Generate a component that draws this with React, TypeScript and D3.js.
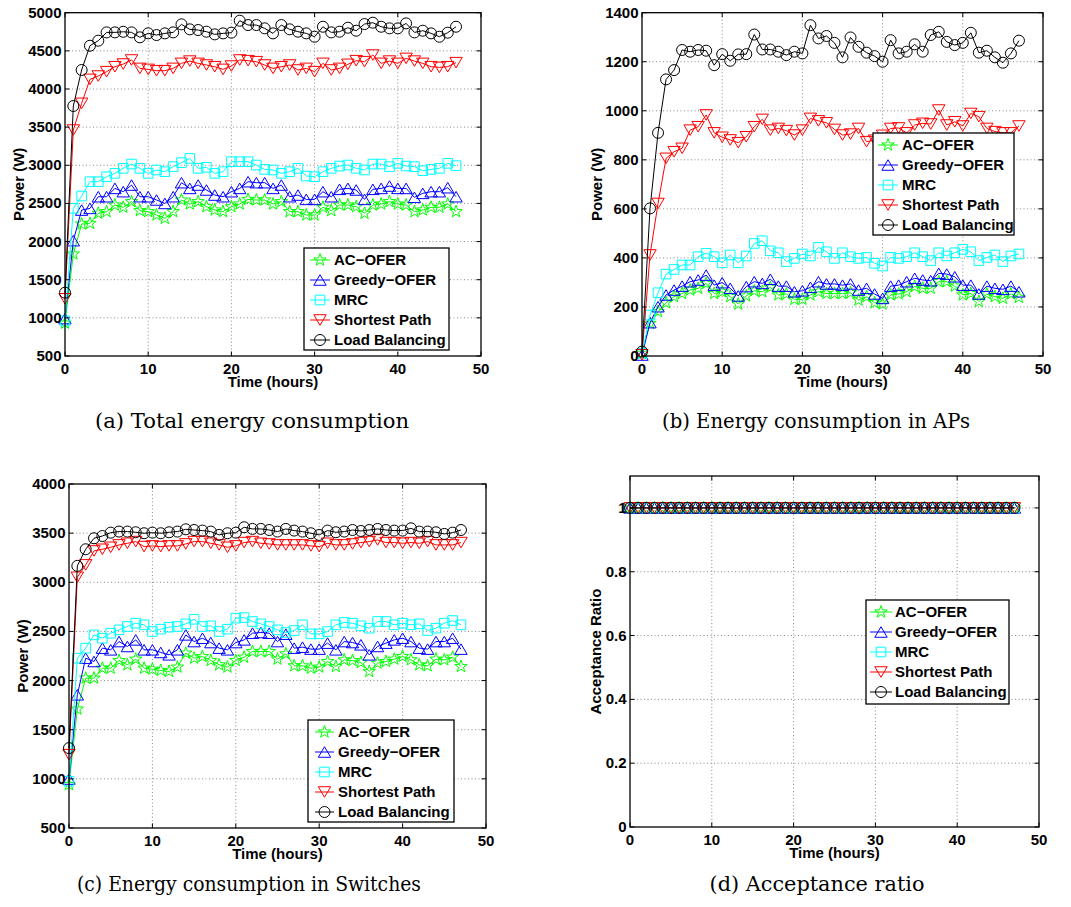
import React from 'react';
import * as d3 from 'd3';

// Time axis: one sample per hour
const HOURS = d3.range(0, 48);

const SERIES_NAMES = ['AC\u2212OFER', 'Greedy\u2212OFER', 'MRC', 'Shortest Path', 'Load Balancing'];
const SERIES_COLORS = ['#00ff00', '#0000ff', '#00ffff', '#ff0000', '#000000'];
const SERIES_MARKERS = ['star', 'triUp', 'square', 'triDown', 'circle'];

// (a) Total energy consumption (W)
const totalAC = [930, 1837, 2230, 2239, 2370, 2392, 2479, 2449, 2523, 2405, 2392, 2348, 2304, 2392, 2545, 2492, 2523, 2457, 2414, 2392, 2457, 2492, 2553, 2545, 2545, 2492, 2523, 2392, 2392, 2348, 2348, 2449, 2405, 2479, 2479, 2457, 2370, 2479, 2492, 2523, 2492, 2479, 2392, 2414, 2449, 2449, 2492, 2392];
const totalGreedy = [990, 2012, 2413, 2435, 2588, 2588, 2697, 2654, 2741, 2588, 2588, 2545, 2500, 2588, 2772, 2697, 2741, 2676, 2610, 2588, 2654, 2697, 2785, 2772, 2772, 2697, 2741, 2588, 2610, 2553, 2553, 2654, 2588, 2685, 2697, 2676, 2553, 2685, 2697, 2728, 2697, 2697, 2580, 2632, 2654, 2654, 2706, 2588];
const totalMRC = [960, 2435, 2597, 2785, 2785, 2850, 2894, 2960, 3016, 2960, 2894, 2938, 2916, 2982, 3034, 3090, 2960, 2973, 2894, 2916, 3047, 3047, 3047, 3003, 2946, 2938, 2894, 2916, 2960, 2859, 2850, 2916, 2960, 2990, 3003, 2960, 2938, 3016, 3016, 2982, 3025, 2990, 2982, 2929, 2946, 2960, 3025, 2995];
const totalSP = [1250, 3462, 3812, 4126, 4170, 4227, 4292, 4327, 4380, 4270, 4257, 4240, 4240, 4270, 4336, 4366, 4336, 4314, 4292, 4257, 4301, 4380, 4371, 4358, 4314, 4270, 4292, 4314, 4249, 4270, 4227, 4336, 4249, 4270, 4323, 4371, 4358, 4445, 4336, 4366, 4336, 4401, 4366, 4336, 4292, 4283, 4292, 4345];
const totalLB = [1330, 3777, 4249, 4567, 4633, 4742, 4742, 4750, 4742, 4677, 4730, 4707, 4729, 4742, 4847, 4782, 4773, 4751, 4716, 4729, 4738, 4895, 4838, 4838, 4795, 4729, 4838, 4782, 4751, 4729, 4685, 4816, 4742, 4751, 4803, 4764, 4851, 4869, 4816, 4795, 4795, 4860, 4742, 4764, 4729, 4685, 4738, 4816];

// (b) Energy consumption in APs (W)
const apAC = [11, 133, 181, 217, 242, 255, 269, 276, 296, 255, 262, 242, 212, 245, 266, 262, 280, 249, 253, 231, 231, 249, 262, 255, 255, 255, 258, 228, 242, 217, 212, 249, 253, 262, 283, 276, 276, 303, 303, 285, 249, 255, 222, 253, 242, 235, 253, 239];
const apGreedy = [4, 136, 201, 249, 269, 285, 303, 310, 330, 289, 299, 276, 245, 283, 303, 296, 313, 285, 285, 262, 266, 280, 303, 294, 294, 289, 294, 269, 276, 253, 235, 285, 289, 303, 317, 310, 307, 337, 334, 323, 289, 289, 253, 285, 276, 272, 285, 262];
const apMRC = [11, 167, 258, 334, 353, 371, 371, 405, 419, 405, 380, 412, 380, 408, 459, 470, 429, 421, 385, 398, 416, 408, 443, 425, 398, 421, 405, 398, 402, 378, 367, 402, 398, 405, 421, 405, 389, 421, 408, 421, 435, 425, 389, 402, 412, 385, 408, 416];
const apSP = [5, 412, 622, 806, 833, 847, 921, 935, 983, 910, 892, 881, 870, 894, 935, 965, 921, 928, 919, 901, 921, 969, 959, 951, 924, 901, 905, 928, 874, 880, 900, 928, 930, 910, 942, 949, 946, 1003, 942, 955, 938, 989, 976, 928, 915, 910, 910, 938];
const apLB = [18, 602, 910, 1128, 1166, 1248, 1241, 1248, 1245, 1186, 1231, 1204, 1230, 1231, 1311, 1250, 1250, 1241, 1227, 1241, 1234, 1349, 1295, 1305, 1277, 1218, 1299, 1261, 1237, 1223, 1200, 1288, 1234, 1241, 1271, 1241, 1309, 1322, 1281, 1268, 1277, 1318, 1237, 1245, 1218, 1196, 1234, 1286];

// (c) Energy consumption in switches (W)
const swAC = [941, 1710, 2025, 2025, 2126, 2126, 2204, 2160, 2218, 2126, 2116, 2103, 2093, 2137, 2279, 2228, 2245, 2204, 2160, 2137, 2204, 2238, 2296, 2296, 2296, 2218, 2272, 2150, 2150, 2126, 2137, 2194, 2143, 2211, 2204, 2184, 2093, 2177, 2194, 2218, 2245, 2211, 2160, 2150, 2218, 2211, 2238, 2143];
const swGreedy = [998, 1855, 2228, 2194, 2330, 2313, 2397, 2347, 2414, 2313, 2313, 2286, 2262, 2313, 2465, 2397, 2431, 2387, 2330, 2313, 2387, 2414, 2482, 2489, 2482, 2397, 2472, 2330, 2340, 2320, 2320, 2381, 2313, 2397, 2387, 2364, 2262, 2347, 2381, 2414, 2431, 2397, 2330, 2320, 2397, 2397, 2431, 2320];
const swMRC = [975, 2228, 2330, 2465, 2431, 2482, 2516, 2550, 2584, 2567, 2499, 2523, 2543, 2550, 2577, 2624, 2550, 2557, 2499, 2523, 2635, 2641, 2601, 2577, 2550, 2516, 2489, 2509, 2567, 2475, 2475, 2499, 2567, 2591, 2584, 2557, 2533, 2601, 2601, 2567, 2584, 2567, 2577, 2509, 2533, 2584, 2611, 2567];
const swSP = [1246, 3051, 3177, 3319, 3336, 3356, 3380, 3397, 3414, 3363, 3370, 3363, 3370, 3370, 3390, 3414, 3414, 3397, 3380, 3356, 3370, 3404, 3414, 3397, 3390, 3380, 3380, 3380, 3380, 3370, 3363, 3397, 3380, 3380, 3390, 3404, 3414, 3431, 3404, 3404, 3397, 3404, 3397, 3414, 3380, 3380, 3380, 3404];
const swLB = [1313, 3167, 3336, 3448, 3471, 3505, 3516, 3516, 3509, 3499, 3505, 3499, 3509, 3516, 3539, 3532, 3526, 3516, 3482, 3499, 3505, 3560, 3543, 3543, 3532, 3516, 3543, 3526, 3516, 3499, 3482, 3526, 3509, 3516, 3532, 3522, 3532, 3543, 3532, 3526, 3526, 3549, 3516, 3516, 3509, 3492, 3505, 3532];

// (d) Acceptance ratio
const accAC = [1, 1, 1, 1, 1, 1, 1, 1, 1, 1, 1, 1, 1, 1, 1, 1, 1, 1, 1, 1, 1, 1, 1, 1, 1, 1, 1, 1, 1, 1, 1, 1, 1, 1, 1, 1, 1, 1, 1, 1, 1, 1, 1, 1, 1, 1, 1, 1];
const accGreedy = [1, 1, 1, 1, 1, 1, 1, 1, 1, 1, 1, 1, 1, 1, 1, 1, 1, 1, 1, 1, 1, 1, 1, 1, 1, 1, 1, 1, 1, 1, 1, 1, 1, 1, 1, 1, 1, 1, 1, 1, 1, 1, 1, 1, 1, 1, 1, 1];
const accMRC = [1, 1, 1, 1, 1, 1, 1, 1, 1, 1, 1, 1, 1, 1, 1, 1, 1, 1, 1, 1, 1, 1, 1, 1, 1, 1, 1, 1, 1, 1, 1, 1, 1, 1, 1, 1, 1, 1, 1, 1, 1, 1, 1, 1, 1, 1, 1, 1];
const accSP = [1, 1, 1, 1, 1, 1, 1, 1, 1, 1, 1, 1, 1, 1, 1, 1, 1, 1, 1, 1, 1, 1, 1, 1, 1, 1, 1, 1, 1, 1, 1, 1, 1, 1, 1, 1, 1, 1, 1, 1, 1, 1, 1, 1, 1, 1, 1, 1];
const accLB = [1, 1, 1, 1, 1, 1, 1, 1, 1, 1, 1, 1, 1, 1, 1, 1, 1, 1, 1, 1, 1, 1, 1, 1, 1, 1, 1, 1, 1, 1, 1, 1, 1, 1, 1, 1, 1, 1, 1, 1, 1, 1, 1, 1, 1, 1, 1, 1];

// Tick values
const X_TICKS = [0, 10, 20, 30, 40, 50];
const Y_TICKS_TOTAL = [500, 1000, 1500, 2000, 2500, 3000, 3500, 4000, 4500, 5000];
const Y_TICKS_AP = [0, 200, 400, 600, 800, 1000, 1200, 1400];
const Y_TICKS_SW = [500, 1000, 1500, 2000, 2500, 3000, 3500, 4000];
const Y_TICKS_ACC = [0, 0.2, 0.4, 0.6, 0.8, 1];

// Marker shapes; size is the squared marker radius
const markerTypes: Record<string, d3.SymbolType> = {
  star: {
    draw(ctx, size) {
      const R = Math.sqrt(size);
      const r = R * 0.4;
      for (let k = 0; k < 10; k++) {
        const a = -Math.PI / 2 + (k * Math.PI) / 5;
        const rad = k % 2 ? r : R;
        const px = rad * Math.cos(a);
        const py = rad * Math.sin(a);
        if (k === 0) ctx.moveTo(px, py);
        else ctx.lineTo(px, py);
      }
      ctx.closePath();
    },
  },
  triUp: {
    draw(ctx, size) {
      const s = Math.sqrt(size);
      ctx.moveTo(0, -s * 0.85);
      ctx.lineTo(s, s * 0.85);
      ctx.lineTo(-s, s * 0.85);
      ctx.closePath();
    },
  },
  triDown: {
    draw(ctx, size) {
      const s = Math.sqrt(size);
      ctx.moveTo(0, s * 0.85);
      ctx.lineTo(s, -s * 0.85);
      ctx.lineTo(-s, -s * 0.85);
      ctx.closePath();
    },
  },
  square: {
    draw(ctx, size) {
      const s = Math.sqrt(size);
      ctx.rect(-s, -s, 2 * s, 2 * s);
    },
  },
  circle: {
    draw(ctx, size) {
      const s = Math.sqrt(size);
      ctx.moveTo(s, 0);
      ctx.arc(0, 0, s, 0, 2 * Math.PI);
    },
  },
};
const markerRadius: Record<string, number> = { star: 6.5, triUp: 6.2, triDown: 6.2, square: 4.8, circle: 5.5 };
const markerPath = (name: string) =>
  d3.symbol().type(markerTypes[name]).size(markerRadius[name] * markerRadius[name])() as string;

type PanelSpec = {
  key: string;
  box: { l: number; r: number; t: number; b: number };
  yDomain: [number, number];
  yTicks: number[];
  yLabel: string;
  yLabelX: number;
  series: number[][];
  legend: { x: number; y: number; w: number; h: number; lineX0: number; lineX1: number; textX: number };
  caption: { text: string; cx: number; y: number; len: number };
};

const PANELS: PanelSpec[] = [
  {
    key: 'a',
    box: { l: 65, r: 481, t: 12.7, b: 356 },
    yDomain: [500, 5000],
    yTicks: Y_TICKS_TOTAL,
    yLabel: 'Power (W)',
    yLabelX: 18,
    series: [totalAC, totalGreedy, totalMRC, totalSP, totalLB],
    legend: { x: 304, y: 248, w: 145, h: 102, lineX0: 310, lineX1: 330, textX: 334 },
    caption: { text: '(a) Total energy consumption', cx: 252, y: 428, len: 314 },
  },
  {
    key: 'b',
    box: { l: 642, r: 1043, t: 12.7, b: 356 },
    yDomain: [0, 1400],
    yTicks: Y_TICKS_AP,
    yLabel: 'Power (W)',
    yLabelX: 596,
    series: [apAC, apGreedy, apMRC, apSP, apLB],
    legend: { x: 873, y: 133, w: 141, h: 102, lineX0: 878, lineX1: 898, textX: 902 },
    caption: { text: '(b) Energy consumption in APs', cx: 816, y: 428, len: 308 },
  },
  {
    key: 'c',
    box: { l: 69, r: 486, t: 484, b: 828 },
    yDomain: [500, 4000],
    yTicks: Y_TICKS_SW,
    yLabel: 'Power (W)',
    yLabelX: 22,
    series: [swAC, swGreedy, swMRC, swSP, swLB],
    legend: { x: 308, y: 720, w: 146, h: 102, lineX0: 315, lineX1: 334, textX: 338 },
    caption: { text: '(c) Energy consumption in Switches', cx: 249, y: 891, len: 344 },
  },
  {
    key: 'd',
    box: { l: 630, r: 1039, t: 476, b: 827 },
    yDomain: [0, 1.1],
    yTicks: Y_TICKS_ACC,
    yLabel: 'Acceptance Ratio',
    yLabelX: 595,
    series: [accAC, accGreedy, accMRC, accSP, accLB],
    legend: { x: 866, y: 600, w: 143, h: 104, lineX0: 870, lineX1: 892, textX: 895 },
    caption: { text: '(d) Acceptance ratio', cx: 817, y: 891, len: 215 },
  },
];

const SANS = '"Liberation Sans", Arial, Helvetica, sans-serif';
const SERIF = '"DejaVu Serif", "Liberation Serif", serif';
const FS = 15;
const TICK = 4.5;

function Panel({ p }: { p: PanelSpec }) {
  const { l, r, t, b } = p.box;
  const x = d3.scaleLinear().domain([0, 50]).range([l, r]);
  const y = d3.scaleLinear().domain(p.yDomain).range([b, t]);
  const line = d3
    .line<number>()
    .x((_, i) => x(HOURS[i]))
    .y((v) => y(v));
  const fmt = (v: number) => String(v);

  return (
    <g>
      {/* dotted grid */}
      <g stroke="#8a8a8a" strokeWidth={1} strokeDasharray="1 2.5">
        {X_TICKS.filter((v) => v > 0 && v < 50).map((v) => (
          <line key={'gx' + v} x1={x(v)} x2={x(v)} y1={t} y2={b} />
        ))}
        {p.yTicks
          .filter((v) => y(v) > t + 1 && y(v) < b - 1)
          .map((v) => (
            <line key={'gy' + v} x1={l} x2={r} y1={y(v)} y2={y(v)} />
          ))}
      </g>

      {/* series */}
      {p.series.map((vals, si) => (
        <g key={'s' + si}>
          <path d={line(vals) as string} fill="none" stroke={SERIES_COLORS[si]} strokeWidth={1} />
          {vals.map((v, i) => (
            <path
              key={i}
              d={markerPath(SERIES_MARKERS[si])}
              transform={`translate(${x(HOURS[i])},${y(v)})`}
              fill="none"
              stroke={SERIES_COLORS[si]}
              strokeWidth={1}
            />
          ))}
        </g>
      ))}

      {/* axes box and ticks */}
      <rect x={l} y={t} width={r - l} height={b - t} fill="none" stroke="#000" strokeWidth={1.3} />
      <g stroke="#000" strokeWidth={1}>
        {X_TICKS.map((v) => (
          <g key={'tx' + v}>
            <line x1={x(v)} x2={x(v)} y1={b} y2={b - TICK} />
            <line x1={x(v)} x2={x(v)} y1={t} y2={t + TICK} />
          </g>
        ))}
        {p.yTicks.map((v) => (
          <g key={'ty' + v}>
            <line x1={l} x2={l + TICK} y1={y(v)} y2={y(v)} />
            <line x1={r} x2={r - TICK} y1={y(v)} y2={y(v)} />
          </g>
        ))}
      </g>

      {/* tick labels */}
      <g fontFamily={SANS} fontWeight="bold" fontSize={FS} fill="#000">
        {X_TICKS.map((v) => (
          <text key={'lx' + v} x={x(v)} y={b + 17.5} textAnchor="middle">
            {fmt(v)}
          </text>
        ))}
        {p.yTicks.map((v) => (
          <text key={'ly' + v} x={l - 3.5} y={y(v) + 5} textAnchor="end">
            {fmt(v)}
          </text>
        ))}
        <text x={(l + r) / 2} y={b + 31} textAnchor="middle">
          Time (hours)
        </text>
        <text
          transform={`translate(${p.yLabelX},${(t + b) / 2}) rotate(-90)`}
          textAnchor="middle"
          dominantBaseline="central"
        >
          {p.yLabel}
        </text>
      </g>

      {/* legend */}
      <g>
        <rect x={p.legend.x} y={p.legend.y} width={p.legend.w} height={p.legend.h} fill="#fff" stroke="#000" strokeWidth={1.3} />
        {SERIES_NAMES.map((name, si) => {
          const ry = p.legend.y + 12 + si * 20;
          const mx = (p.legend.lineX0 + p.legend.lineX1) / 2;
          return (
            <g key={'lg' + si}>
              <line x1={p.legend.lineX0} x2={p.legend.lineX1} y1={ry} y2={ry} stroke={SERIES_COLORS[si]} strokeWidth={1} />
              <path d={markerPath(SERIES_MARKERS[si])} transform={`translate(${mx},${ry})`} fill="none" stroke={SERIES_COLORS[si]} strokeWidth={1} />
              <text x={p.legend.textX} y={ry + 5} fontFamily={SANS} fontWeight="bold" fontSize={FS} fill="#000">
                {name}
              </text>
            </g>
          );
        })}
      </g>

      {/* caption */}
      <text
        x={p.caption.cx}
        y={p.caption.y}
        textAnchor="middle"
        fontFamily={SERIF}
        fontSize={20}
        fill="#000"
        textLength={p.caption.len}
        lengthAdjust="spacingAndGlyphs"
      >
        {p.caption.text}
      </text>
    </g>
  );
}

export default function App() {
  return (
    <svg
      width={1071}
      height={907}
      viewBox="0 0 1071 907"
      style={{ position: 'absolute', left: 0, top: 0, background: '#fff' }}
    >
      <rect x={0} y={0} width={1071} height={907} fill="#fff" />
      {PANELS.map((p) => (
        <Panel key={p.key} p={p} />
      ))}
    </svg>
  );
}
